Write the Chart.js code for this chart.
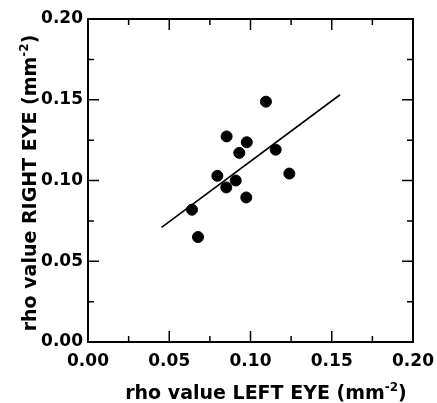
<!DOCTYPE html>
<html>
<head>
<meta charset="utf-8">
<script src="https://cdn.jsdelivr.net/npm/chart.js@4"></script>
<style>
  body { margin: 0; background: #fff; }
  #wrap { width: 437px; height: 403px; }
</style>
</head>
<body>
<div id="wrap"><canvas id="chart" width="437" height="403"></canvas></div>
<script>
// rho values, left eye (x) vs right eye (y)
var left_eye = [0.1095, 0.0853, 0.0977, 0.0931, 0.1155, 0.0796, 0.0909, 0.0851, 0.1239, 0.0974, 0.0640, 0.0677];
var right_eye = [0.1488, 0.1273, 0.1237, 0.1171, 0.1191, 0.1029, 0.1000, 0.0957, 0.1043, 0.0895, 0.0819, 0.0650];
// regression line end points
var fit_x = [0.0453, 0.1551];
var fit_y = [0.0710, 0.1531];
var major_ticks = [0, 0.05, 0.10, 0.15, 0.20];
var minor_ticks = [0.025, 0.075, 0.125, 0.175];
var x_title = 'rho value LEFT EYE (mm';
var y_title = 'rho value RIGHT EYE (mm';
var title_sup = '-2';

var font_family = '"DejaVu Sans", "Liberation Sans", sans-serif';

var points = left_eye.map(function(x, i) { return {x: x, y: right_eye[i]}; });
var fit = fit_x.map(function(x, i) { return {x: x, y: fit_y[i]}; });

// frame, inward ticks on all four sides, and axis titles
var framePlugin = {
  id: 'frame',
  afterDraw: function(chart) {
    var ctx = chart.ctx;
    var a = chart.chartArea;
    var xs = chart.scales.x, ys = chart.scales.y;
    ctx.save();
    ctx.strokeStyle = '#000';
    ctx.lineWidth = 2;
    ctx.strokeRect(a.left, a.top, a.right - a.left, a.bottom - a.top);
    ctx.lineWidth = 1.5;
    function ticks(list, len) {
      list.forEach(function(v) {
        var px = xs.getPixelForValue(v);
        var py = ys.getPixelForValue(v);
        ctx.beginPath();
        ctx.moveTo(px, a.bottom); ctx.lineTo(px, a.bottom - len);
        ctx.moveTo(px, a.top); ctx.lineTo(px, a.top + len);
        ctx.moveTo(a.left, py); ctx.lineTo(a.left + len, py);
        ctx.moveTo(a.right, py); ctx.lineTo(a.right - len, py);
        ctx.stroke();
      });
    }
    ticks(major_ticks, 11);
    ticks(minor_ticks, 6);

    // titles with superscript
    ctx.fillStyle = '#000';
    ctx.textBaseline = 'alphabetic';
    var big = 'bold 19px ' + font_family, small = 'bold 12px ' + font_family;
    function drawTitle(text, cx, cy) {
      ctx.font = big;
      var w1 = ctx.measureText(text).width;
      var w3 = ctx.measureText(')').width;
      ctx.font = small;
      var w2 = ctx.measureText(title_sup).width;
      var x0 = cx - (w1 + w2 + w3) / 2;
      ctx.font = big;
      ctx.fillText(text, x0, cy);
      ctx.fillText(')', x0 + w1 + w2, cy);
      ctx.font = small;
      ctx.fillText(title_sup, x0 + w1, cy - 8);
    }
    drawTitle(x_title, 266, 399);
    ctx.translate(36, 183);
    ctx.rotate(-Math.PI / 2);
    drawTitle(y_title, 0, 0);
    ctx.restore();
  }
};

new Chart(document.getElementById('chart').getContext('2d'), {
  type: 'scatter',
  data: {
    datasets: [{
      data: points,
      backgroundColor: '#000',
      borderColor: '#000',
      pointRadius: 5.5,
      pointHoverRadius: 5.5
    }, {
      data: fit,
      showLine: true,
      borderColor: '#000',
      borderWidth: 1.6,
      pointRadius: 0,
      fill: false
    }]
  },
  options: {
    responsive: false,
    animation: false,
    layout: { padding: { left: 0, right: 24, top: 19, bottom: 0 } },
    plugins: { legend: { display: false }, tooltip: { enabled: false } },
    scales: {
      x: {
        type: 'linear', min: 0, max: 0.2,
        grid: { display: false, drawTicks: false },
        border: { display: false },
        ticks: {
          stepSize: 0.05, padding: 9, color: '#000',
          font: { family: font_family, size: 17, weight: 'bold' },
          maxRotation: 0,
          callback: function(v) { return v.toFixed(2); }
        },
        afterFit: function(s) { s.height = 61; s.paddingLeft = 0; s.paddingRight = 0; }
      },
      y: {
        type: 'linear', min: 0, max: 0.2,
        grid: { display: false, drawTicks: false },
        border: { display: false },
        ticks: {
          stepSize: 0.05, padding: 5, color: '#000',
          font: { family: font_family, size: 17, weight: 'bold' },
          callback: function(v) { return v.toFixed(2); }
        },
        afterFit: function(s) { s.width = 88; s.paddingTop = 0; s.paddingBottom = 0; }
      }
    }
  },
  plugins: [framePlugin]
});
</script>
</body>
</html>
